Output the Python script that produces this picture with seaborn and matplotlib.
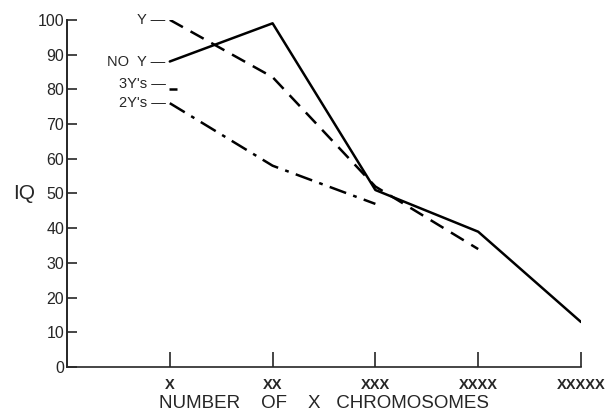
import matplotlib
matplotlib.use("Agg")
import matplotlib.pyplot as plt
import numpy as np
import pandas as pd
import seaborn as sns

# number of X chromosomes (category order)
categories = ['X', 'XX', 'XXX', 'XXXX', 'XXXXX']

no_y = [88, 99, 51, 39, 13]
y_one = [100, 83.5, 52, 34]
y_three = [80]
y_two = [76, 58, 47]

sns.set_style('ticks')
plt.rcParams['font.family'] = ['Liberation Sans', 'DejaVu Sans']

fig = plt.figure(figsize=(6.09, 4.13), dpi=100)
ax = fig.add_axes([0.110, 0.111, 0.844, 0.841])

pos = np.arange(len(categories))

sns.lineplot(x=pos[:len(no_y)], y=no_y, ax=ax, color='black', lw=1.8)
sns.lineplot(x=pos[:len(y_one)], y=y_one, ax=ax, color='black', lw=1.8,
             dashes=False, linestyle=(0, (6, 3.5)))
sns.lineplot(x=pos[:len(y_two)], y=y_two, ax=ax, color='black', lw=1.8,
             linestyle=(0, (7, 3, 1.5, 3)))
sns.scatterplot(x=pos[:len(y_three)] + 0.03, y=y_three, ax=ax, color='black',
                marker='_', s=30, linewidth=1.8)

# series labels at left of first point
labels = [('Y', y_one[0]), ('NO  Y', no_y[0]), ("3Y's", y_three[0] + 1.5), ("2Y's", y_two[0])]
for txt, yv in labels:
    ax.text(-0.04, yv, txt + ' \u2014', ha='right', va='center', fontsize=10.5)

ax.set_xlim(-1, 4)
ax.set_ylim(0, 100)
ax.set_xticks(pos)
ax.set_xticklabels(categories, fontsize=10.5, fontweight='bold')
ax.set_yticks(range(0, 101, 10))
ax.set_yticklabels([str(v) for v in range(0, 101, 10)], fontsize=11.5)
ax.tick_params(axis='y', direction='in', length=7, width=1.2, pad=2)
ax.tick_params(axis='x', direction='in', length=11, width=1.2, pad=8)
sns.despine(ax=ax)
ax.spines['left'].set_linewidth(1.4)
ax.spines['bottom'].set_linewidth(1.2)

ax.set_xlabel('NUMBER    OF    X   CHROMOSOMES', fontsize=13.5, labelpad=2)
ax.set_ylabel('IQ', fontsize=15, rotation=0, va='center', labelpad=10)

plt.savefig('out.png', dpi=100)
